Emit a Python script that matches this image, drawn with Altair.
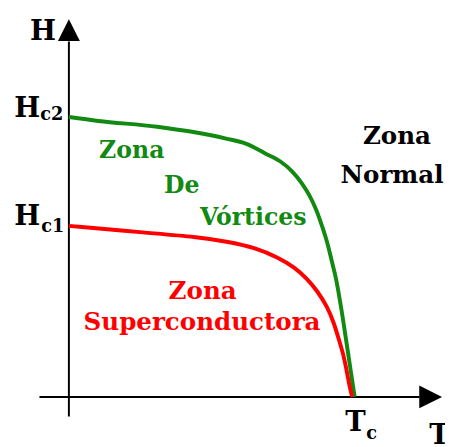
import altair as alt
import pandas as pd

# Upper critical field curve Hc2(T) (normalised: Hc2(0)=1, Tc=1)
hc2_T = [0.0, 0.103, 0.309, 0.550, 0.619, 0.687, 0.739, 0.780, 0.814, 0.842, 0.866, 0.887,
         0.904, 0.921, 0.935, 0.952, 0.969, 0.986, 1.0]
hc2_H = [1.0, 0.986, 0.965, 0.923, 0.905, 0.870, 0.842, 0.807, 0.765, 0.719, 0.667, 0.607,
         0.551, 0.481, 0.421, 0.323, 0.211, 0.095, 0.0]

# Lower critical field curve Hc1(T)
hc1_T = [0.0, 0.275, 0.447, 0.560, 0.653, 0.732, 0.790, 0.835, 0.869, 0.904, 0.928, 0.945,
         0.962, 0.973, 0.986, 0.992]
hc1_H = [0.611, 0.586, 0.572, 0.554, 0.533, 0.498, 0.463, 0.421, 0.379, 0.323, 0.263, 0.204,
         0.147, 0.088, 0.018, 0.0]

XD = [-0.2131, 1.2887]
YD = [-0.1368, 1.3754]
xs = alt.Scale(domain=XD, nice=False, zero=False)
ys = alt.Scale(domain=YD, nice=False, zero=False)

def X(f="T"):
    return alt.X(f"{f}:Q", scale=xs, axis=None)

def Y(f="H"):
    return alt.Y(f"{f}:Q", scale=ys, axis=None)

green = "#128a12"
red = "#ff0000"
font = "DejaVu Serif"

df2 = pd.DataFrame({"T": hc2_T, "H": hc2_H})
df1 = pd.DataFrame({"T": hc1_T, "H": hc1_H})

axes_df = pd.DataFrame([
    {"T": 0.0, "T2": 0.0, "H": 1.270, "H2": -0.070},
    {"T": -0.103, "T2": 1.227, "H": 0.0, "H2": 0.0},
])
axes = alt.Chart(axes_df).mark_rule(color="black", strokeWidth=2).encode(
    x=X(), x2="T2:Q", y=Y(), y2="H2:Q")

up = alt.Chart(pd.DataFrame({"T": [0.0], "H": [1.3105]})).mark_point(
    shape="M-1,1L1,1L0,-1Z", size=500, filled=True, color="black", opacity=1
).encode(x=X(), y=Y())
right = alt.Chart(pd.DataFrame({"T": [1.266], "H": [0.0]})).mark_point(
    shape="M-1,-1L1,0L-1,1Z", size=540, filled=True, color="black", opacity=1
).encode(x=X(), y=Y())

l2 = alt.Chart(df2).mark_line(color=green, strokeWidth=4, interpolate="monotone").encode(
    x=X(), y=Y(), order="T:Q")
l1 = alt.Chart(df1).mark_line(color=red, strokeWidth=4, interpolate="basis").encode(
    x=X(), y=Y(), order="T:Q")

def txt(rows, color, size, align="center"):
    return alt.Chart(pd.DataFrame(rows)).mark_text(
        font=font, fontWeight="bold", fontSize=size, color=color, align=align,
        baseline="alphabetic"
    ).encode(x=X(), y=Y(), text="label:N")

green_lbl = txt([
    {"label": "Zona", "T": 0.220, "H": 0.853},
    {"label": "De", "T": 0.395, "H": 0.730},
    {"label": "Vórtices", "T": 0.645, "H": 0.614},
], green, 24)
red_lbl = txt([
    {"label": "Zona", "T": 0.468, "H": 0.351},
    {"label": "Superconductora", "T": 0.466, "H": 0.239},
], red, 25)
black_lbl = txt([
    {"label": "Zona", "T": 1.148, "H": 0.902},
    {"label": "Normal", "T": 1.131, "H": 0.765},
], "black", 25)

big_r = txt([
    {"label": "H", "T": -0.045, "H": 1.274},
    {"label": "H", "T": -0.100, "H": 1.0},
    {"label": "H", "T": -0.100, "H": 0.614},
], "black", 28, align="right")
big_c = txt([
    {"label": "T", "T": 1.003, "H": -0.123},
], "black", 28)
big_l = txt([
    {"label": "T", "T": 1.261, "H": -0.168},
], "black", 28, align="left")
subs = txt([
    {"label": "c2", "T": -0.100, "H": 0.989},
    {"label": "c1", "T": -0.097, "H": 0.589},
    {"label": "c", "T": 1.041, "H": -0.151},
], "black", 18, align="left")

chart = alt.layer(axes, l2, l1, up, right, green_lbl, red_lbl, black_lbl,
                  big_r, big_c, big_l, subs).properties(
    width=437, height=431,
    autosize=alt.AutoSizeParams(type="none"),
    padding={"left": 0, "top": 0, "right": 8, "bottom": 8},
    background="white",
).configure_view(strokeWidth=0)

chart.save("out.html", embed_options={"renderer": "svg", "actions": False})
